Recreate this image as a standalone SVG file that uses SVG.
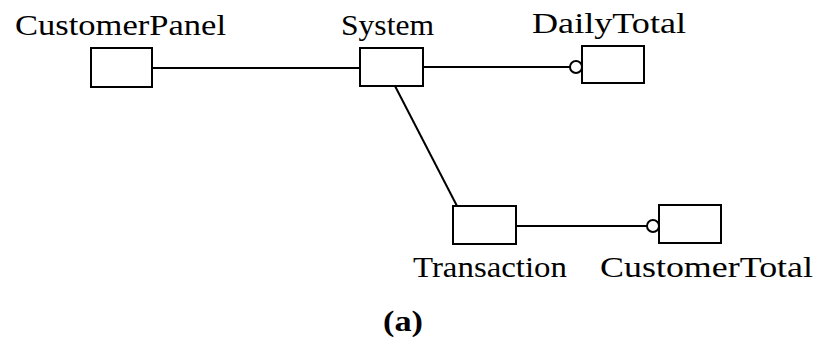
<svg xmlns="http://www.w3.org/2000/svg" width="819" height="347" viewBox="0 0 819 347">
  <style>
    .box { fill: #fff; stroke: #000; stroke-width: 2; }
    .wire { fill: none; stroke: #000; stroke-width: 2; }
    .end { fill: #fff; stroke: #000; stroke-width: 2; }
    .lbl { font-family: "Liberation Serif", "DejaVu Serif", serif; font-size: 29px; fill: #000; }
  </style>
  <rect width="819" height="347" fill="#fff"/>

  <!-- connectors -->
  <g id="connectors">
    <line class="wire" x1="152" y1="68" x2="360" y2="68"/>
    <line class="wire" x1="423" y1="67" x2="570" y2="67"/>
    <circle class="end" cx="576" cy="67" r="6"/>
    <line class="wire" x1="395" y1="86" x2="457" y2="206"/>
    <line class="wire" x1="516" y1="226" x2="647" y2="226"/>
    <circle class="end" cx="653" cy="226" r="6"/>
  </g>

  <g id="customer-panel">
    <rect class="box" x="91" y="48" width="61" height="39"/>
    <text class="lbl" x="15" y="35" textLength="211" lengthAdjust="spacingAndGlyphs">CustomerPanel</text>
  </g>

  <g id="system">
    <rect class="box" x="360" y="48" width="63" height="38"/>
    <text class="lbl" x="341" y="35" textLength="93" lengthAdjust="spacingAndGlyphs">System</text>
  </g>

  <g id="daily-total">
    <rect class="box" x="582" y="46" width="62" height="37"/>
    <text class="lbl" x="532" y="33" textLength="154" lengthAdjust="spacingAndGlyphs">DailyTotal</text>
  </g>

  <g id="transaction">
    <rect class="box" x="453" y="206" width="63" height="38"/>
    <text class="lbl" x="413" y="277" textLength="154" lengthAdjust="spacingAndGlyphs">Transaction</text>
  </g>

  <g id="customer-total">
    <rect class="box" x="659" y="205" width="62" height="38"/>
    <text class="lbl" x="600" y="277" textLength="213" lengthAdjust="spacingAndGlyphs">CustomerTotal</text>
  </g>

  <text class="lbl" x="383" y="331" font-size="25" font-weight="bold" textLength="40" lengthAdjust="spacingAndGlyphs">(a)</text>
</svg>
